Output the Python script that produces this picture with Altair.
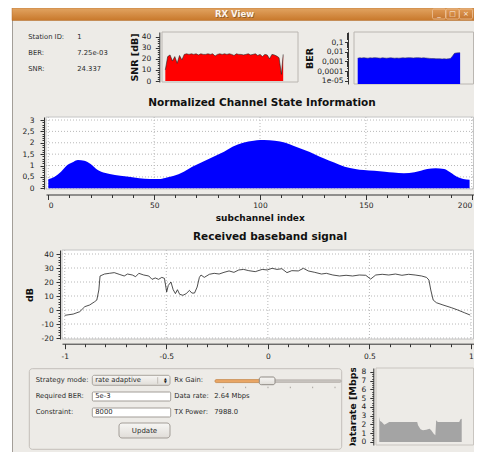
import altair as alt
import pandas as pd

FONT = "DejaVu Sans"
BG = "#EDEBE7"
INK = "#2b2b2b"
W, H = 466, 444

# ---------------- texts ----------------
window_title = "RX View"
window_buttons = ["_", "□", "×"]
station_labels = ["Station ID:", "BER:", "SNR:"]
station_values = ["1", "7.25e-03", "24.337"]
csi_title = "Normalized Channel State Information"
csi_xtitle = "subchannel index"
bb_title = "Received baseband signal"
ctrl_labels = ["Strategy mode:", "Required BER:", "Constraint:"]
ctrl_inputs = ["rate adaptive", "5e-3", "8000"]
stat_labels = ["Rx Gain:", "Data rate:", "TX Power:"]
stat_values = ["", "2.64 Mbps", "7988.0"]
button_label = "Update"
dr_title_text = "Datarate [Mbps]"
ber_tick_exps = [-1, -2, -3, -4, -5]
ber_tick_labels = ["0,1", "0,01", "0,001", "0,0001", "1e-05"]

# ---------------- series ----------------
sub_idx = list(range(0, 200, 4)) + [199]
snr_db = [10, 22, 23.5, 18, 22, 16, 23, 19, 24, 24.5, 24, 24.5, 24, 24.5, 23.5, 24.5,
          24, 24, 24.5, 24, 24.5, 22.5, 24, 24.5, 24, 24.5, 24, 24.5, 24, 23, 24.5, 24,
          24, 23.5, 24, 24.5, 23.5, 24, 24.5, 23, 24, 22, 24, 23.5, 20, 24, 23.5, 22.5,
          21, 6, 24]
ber_vals = [0.0022, 0.0024, 0.0023, 0.0025, 0.0023, 0.0022, 0.0024, 0.0023, 0.0025, 0.0024,
            0.0023, 0.0022, 0.0024, 0.0023, 0.0022, 0.0023, 0.0024, 0.0023, 0.0022, 0.0023,
            0.0022, 0.0023, 0.0024, 0.0023, 0.0024, 0.0025, 0.0024, 0.0023, 0.0024, 0.0025,
            0.0024, 0.0023, 0.0024, 0.0023, 0.0022, 0.0021, 0.0020, 0.0020, 0.0019, 0.0019,
            0.0019, 0.0018, 0.0019, 0.0018, 0.0019, 0.0020, 0.0035, 0.0070, 0.0078, 0.0080,
            0.0080]
csi_idx = [0, 3, 6, 9, 12, 14, 17, 20, 23, 25, 29, 34, 38, 43, 48, 53, 56, 59, 64, 68,
           73, 78, 83, 87, 92, 97, 100, 102, 107, 112, 116, 121, 126, 130, 135, 140, 145,
           149, 154, 159, 163, 168, 173, 176, 179, 183, 187, 190, 193, 196, 199]
csi_val = [0.40, 0.51, 0.73, 1.02, 1.17, 1.24, 1.21, 1.07, 0.83, 0.73, 0.63, 0.55, 0.51,
           0.44, 0.41, 0.41, 0.47, 0.54, 0.73, 0.95, 1.17, 1.39, 1.61, 1.83, 2.00, 2.09,
           2.12, 2.12, 2.09, 2.00, 1.86, 1.68, 1.49, 1.32, 1.13, 0.95, 0.85, 0.80, 0.77,
           0.73, 0.69, 0.66, 0.70, 0.77, 0.85, 0.88, 0.85, 0.69, 0.51, 0.41, 0.37]
bb_freq = [-1.0, -0.958, -0.926, -0.901, -0.877, -0.853, -0.842, -0.832, -0.826, -0.804,
           -0.78, -0.756, -0.732, -0.707, -0.691, -0.667, -0.651, -0.635, -0.611, -0.586,
           -0.57, -0.554, -0.538, -0.522, -0.509, -0.498, -0.49, -0.477, -0.466, -0.455,
           -0.445, -0.434, -0.418, -0.402, -0.386, -0.374, -0.361, -0.348, -0.337, -0.329,
           -0.313, -0.288, -0.264, -0.24, -0.216, -0.191, -0.167, -0.143, -0.119, -0.094,
           -0.062, -0.028, -0.003, 0.021, 0.045, 0.069, 0.094, 0.118, 0.15, 0.175,
           0.199, 0.231, 0.264, 0.288, 0.32, 0.353, 0.385, 0.417, 0.45, 0.482,
           0.506, 0.531, 0.563, 0.595, 0.628, 0.66, 0.693, 0.725, 0.757, 0.781,
           0.793, 0.802, 0.814, 0.83, 0.862, 0.903, 0.935, 0.967, 0.996]
bb_db = [-3.8, -2.9, -1.2, 2.4, 3.6, 5.9, 7.1, 14.3, 24.3, 25.7,
         26.2, 26.7, 25.5, 24.3, 25.7, 25.0, 23.8, 26.2, 25.0, 24.3,
         21.9, 22.9, 21.9, 23.3, 22.6, 12.9, 17.6, 20.0, 14.5, 11.7,
         14.5, 11.2, 10.5, 11.7, 14.0, 12.1, 12.1, 16.4, 23.3, 25.0,
         23.3, 25.5, 26.2, 25.7, 26.9, 27.9, 26.9, 28.6, 29.0, 28.1,
         27.4, 29.0, 28.6, 29.8, 29.0, 29.5, 26.7, 28.1, 27.9, 29.8,
         27.9, 26.9, 25.7, 26.2, 25.0, 24.3, 24.8, 24.3, 25.0, 24.8,
         22.1, 25.0, 25.5, 25.0, 25.7, 24.8, 25.5, 25.0, 24.3, 23.3,
         21.4, 14.3, 7.1, 5.2, 3.6, 1.7, 0.0, -1.9, -3.6]
dr_t = [0, 1, 3, 6, 9, 12, 46, 47, 50, 53, 57, 61, 63, 66, 68, 69, 71, 97, 98.5, 100]
dr_mbps = [2.86, 2.4, 2.29, 1.98, 2.1, 2.29, 2.29, 1.9, 1.45, 1.33, 1.41, 1.52, 1.33,
           0.95, 0.76, 2.48, 2.29, 2.29, 2.59, 2.67]
slider_ticks = [0, 1, 2, 3, 4, 5]

# axis tick / grid positions
snr_ticks = list(range(0, 41, 2))
ber_ticks = [float(f"{d}e{e}") for e in range(-5, 0) for d in range(1, 10)]
csi_yticks = [round(0.1 * i, 1) for i in range(31)]
csi_xticks = list(range(0, 201, 10))
csi_xgrid = [0, 50, 100, 150, 200]
csi_ygrid = [0, 0.5, 1, 1.5, 2, 2.5, 3]
bb_xticks = [round(-1 + 0.1 * i, 1) for i in range(21)]
bb_yticks = list(range(-20, 41, 2))
bb_xgrid = [-1, -0.5, 0, 0.5, 1]
bb_ygrid = [-20, -10, 0, 10, 20, 30, 40]
dr_yticks = [0.25 * i for i in range(33)]

one = pd.DataFrame({"k": [0]})


def box(x, y, w, h, fill, stroke, r=0, sw=1):
    return alt.Chart(one).mark_rect(fill=fill, stroke=stroke, strokeWidth=sw,
                                    cornerRadius=r).encode(
        x=alt.value(x), x2=alt.value(x + w), y=alt.value(y), y2=alt.value(y + h))


def txt(s, x, y, size=6.8, color=INK, align="left", weight="normal", **kw):
    return alt.Chart(one).mark_text(text=s, align=align, baseline="middle", font=FONT,
                                    fontSize=size, color=color, fontWeight=weight,
                                    **kw).encode(x=alt.value(x), y=alt.value(y))


def cond(test, a, b):
    return {"condition": {"test": test, "value": a}, "value": b}


def lin(domain, rng):
    return alt.Scale(domain=domain, range=rng, nice=False, zero=False)


def grid_rules(values, scale, horizontal, a, b):
    df = pd.DataFrame({"g": values})
    base = alt.Chart(df).mark_rule(color="#b8b8b8", strokeDash=[1, 2], strokeWidth=1)
    if horizontal:
        return base.encode(y=alt.Y("g:Q", axis=None, scale=scale),
                           x=alt.value(a), x2=alt.value(b))
    return base.encode(x=alt.X("g:Q", axis=None, scale=scale),
                       y=alt.value(a), y2=alt.value(b))


layers = []

# ---------------- window frame + title bar ----------------
bar_fill = alt.LinearGradient(gradient="linear", x1=0, y1=0, x2=0, y2=1,
                              stops=[alt.GradientStop(offset=0, color="#E2A462"),
                                     alt.GradientStop(offset=1, color="#C8782B")])
btn_fill = alt.LinearGradient(gradient="linear", x1=0, y1=0, x2=0, y2=1,
                              stops=[alt.GradientStop(offset=0, color="#E09A55"),
                                     alt.GradientStop(offset=1, color="#C57630")])
btn_df = pd.DataFrame({"k": [0, 1, 2], "b": window_buttons})
btn_x = alt.X("k:Q", axis=None, scale=lin([0, 2], [431, 458]))
layers += [
    box(0, 0, 4, H, "white", "white", 0, 0),
    alt.Chart(one).mark_rule(color="#a39e98").encode(
        x=alt.value(4.5), y=alt.value(12), y2=alt.value(H)),
    box(4, 0, 462, 12.5, bar_fill, "#B06A28", 0, 0.5),
    txt(window_title, 227.3, 6.8, 8.5, "#6a4320", "center", "bold", opacity=0.6),
    txt(window_title, 226.5, 6.0, 8.5, "#FBF4EC", "center", "bold"),
    alt.Chart(btn_df).mark_rect(width=13, fill=btn_fill, stroke="#EDC39A", strokeWidth=0.8,
                                cornerRadius=1.5).encode(
        x=btn_x, y=alt.value(1), y2=alt.value(11)),
    alt.Chart(btn_df).mark_text(font=FONT, fontSize=7, color="#FBF0E4",
                                baseline="middle").encode(
        x=btn_x, y=alt.value(5.8), text="b:N"),
]

# ---------------- station info ----------------
info_df = pd.DataFrame({"row": [0, 1, 2], "label": station_labels, "value": station_values})
info_y = alt.Y("row:O", axis=None, scale=alt.Scale(type="point", range=[29.3, 61.3], padding=0))
layers += [
    alt.Chart(info_df).mark_text(align="left", baseline="middle", font=FONT, fontSize=6.8,
                                 color=INK).encode(x=alt.value(20.3), y=info_y, text="label:N"),
    alt.Chart(info_df).mark_text(align="left", baseline="middle", font=FONT, fontSize=6.8,
                                 color=INK).encode(x=alt.value(69.3), y=info_y, text="value:N"),
]

# ---------------- SNR panel ----------------
snr_df = pd.DataFrame({"idx": sub_idx, "snr": snr_db})
snr_xs = lin([-5.6, 224], [154, 290])
snr_ys = lin([-0.9, 44.2], [74, 24])
snr_axis = alt.Axis(orient="left", offset=-151.3, values=snr_ticks,
                    labelExpr="datum.value % 10 == 0 ? toString(datum.value) : ''",
                    tickSize=cond("datum.value % 10 == 0", 4, 2), labelPadding=4.5,
                    title="SNR [dB]", titleFontSize=9.5, titlePadding=2)
layers += [
    box(154, 24, 136, 50, BG, "#bab6b1"),
    alt.Chart(snr_df).mark_area(color="#FF0000").encode(
        x=alt.X("idx:Q", axis=None, scale=snr_xs),
        y=alt.Y("snr:Q", axis=snr_axis, scale=snr_ys), y2=alt.datum(0)),
    alt.Chart(snr_df).mark_line(color="#222222", strokeWidth=0.6).encode(
        x=alt.X("idx:Q", axis=None, scale=snr_xs),
        y=alt.Y("snr:Q", axis=None, scale=snr_ys)),
]

# ---------------- BER panel ----------------
is_dec = "abs(log(datum.value)/LN10 - round(log(datum.value)/LN10)) < 0.01"
ber_label_expr = (is_dec + " ? (" + " : ".join(
    f"round(log(datum.value)/LN10) == {e} ? '{l}'"
    for e, l in zip(ber_tick_exps, ber_tick_labels)) + " : '') : ''")
ber_df = pd.DataFrame({"idx": sub_idx, "ber": ber_vals})
ber_xs = lin([-7.2, 225], [346, 465.5])
ber_ys = alt.Scale(type="log", domain=[4.5e-6, 1.18], range=[76, 24], nice=False)
ber_axis = alt.Axis(orient="left", offset=-340, values=ber_ticks, labelExpr=ber_label_expr,
                    tickSize=cond(is_dec, 3.5, 1.5), labelPadding=1.5, title="BER",
                    titleFontSize=9.5, titlePadding=2)
layers += [
    box(346, 24, 119.5, 52, BG, "#bab6b1"),
    alt.Chart(ber_df).mark_area(color="#0000FF").encode(
        x=alt.X("idx:Q", axis=None, scale=ber_xs),
        y=alt.Y("ber:Q", axis=ber_axis, scale=ber_ys), y2=alt.datum(4.5e-6)),
    alt.Chart(ber_df).mark_line(color="#333366", strokeWidth=0.6).encode(
        x=alt.X("idx:Q", axis=None, scale=ber_xs),
        y=alt.Y("ber:Q", axis=None, scale=ber_ys)),
]

# ---------------- CSI panel ----------------
half = "abs(datum.value*2 - round(datum.value*2)) < 0.001"
csi_df = pd.DataFrame({"idx": csi_idx, "csi": csi_val})
csi_xs = lin([-1.09, 200.85], [38, 465.5])
csi_ys = lin([-0.031, 3.132], [181, 109])
csi_xaxis = alt.Axis(orient="bottom", offset=186.5 - H, values=csi_xticks,
                     labelExpr="datum.value % 50 == 0 ? toString(datum.value) : ''",
                     tickSize=cond("datum.value % 50 == 0", 5, 3), labelPadding=2,
                     labelFlush=4, title=csi_xtitle, titleFontSize=9, titlePadding=4)
csi_yaxis = alt.Axis(orient="left", offset=-36, values=csi_yticks,
                     labelExpr=half + " ? replace(toString(datum.value), '.', ',') : ''",
                     tickSize=cond(half, 4, 2), labelPadding=6, title=None)
layers += [
    box(38, 109, 427.5, 72, "white", "#c4c4c4"),
    grid_rules(csi_xgrid, csi_xs, False, 109, 181),
    grid_rules(csi_ygrid, csi_ys, True, 38, 465.5),
    alt.Chart(csi_df).mark_area(color="#0000FF", interpolate="monotone").encode(
        x=alt.X("idx:Q", axis=csi_xaxis, scale=csi_xs),
        y=alt.Y("csi:Q", axis=csi_yaxis, scale=csi_ys), y2=alt.datum(0)),
    txt(csi_title, 254, 95, 10.5, "#111111", "center", "bold"),
]

# ---------------- baseband panel ----------------
bb_df = pd.DataFrame({"f": bb_freq, "db": bb_db})
bb_xs = lin([-1.0133, 1.0123], [54, 465.5])
bb_ys = lin([-20.7, 42.86], [331, 242])
bb_xaxis = alt.Axis(orient="bottom", offset=335.7 - H, values=bb_xticks,
                    labelExpr=half + " ? toString(datum.value) : ''",
                    tickSize=cond(half, 5, 3), labelPadding=4, title=None)
bb_yaxis = alt.Axis(orient="left", offset=-52, values=bb_yticks,
                    labelExpr="datum.value % 10 == 0 ? toString(datum.value) : ''",
                    tickSize=cond("datum.value % 10 == 0", 4, 2), labelPadding=2.7,
                    title="dB", titleFontSize=9.5, titlePadding=7)
layers += [
    box(54, 242, 411.5, 89, "white", "#c4c4c4"),
    grid_rules(bb_xgrid, bb_xs, False, 242, 331),
    grid_rules(bb_ygrid, bb_ys, True, 54, 465.5),
    alt.Chart(bb_df).mark_line(color="#222222", strokeWidth=0.8).encode(
        x=alt.X("f:Q", axis=bb_xaxis, scale=bb_xs),
        y=alt.Y("db:Q", axis=bb_yaxis, scale=bb_ys)),
    txt(bb_title, 262, 229, 10.5, "#111111", "center", "bold"),
]

# ---------------- controls panel ----------------
CX, CY = 21.3, 360.7


def cbox(x, y, w, h, fill, stroke, r=0, sw=1):
    return box(CX + x, CY + y, w, h, fill, stroke, r, sw)


ctrl_df = pd.DataFrame({"row": [0, 1, 2], "label": ctrl_labels, "inp": ctrl_inputs,
                        "slabel": stat_labels, "sval": stat_values})
row_y = alt.Y("row:O", axis=None,
              scale=alt.Scale(type="point", range=[CY + 11.6, CY + 43.4], padding=0))


def ctext(field, x):
    return alt.Chart(ctrl_df).mark_text(align="left", baseline="middle", font=FONT,
                                        fontSize=6.8, color=INK).encode(
        x=alt.value(CX + x), y=row_y, text=f"{field}:N")


btn_grad = alt.LinearGradient(gradient="linear", x1=0, y1=0, x2=0, y2=1,
                              stops=[alt.GradientStop(offset=0, color="#F7F6F4"),
                                     alt.GradientStop(offset=1, color="#E0DDD8")])
tick_df = pd.DataFrame({"k": slider_ticks})
layers += [
    cbox(0, 0, 312.4, 80.6, BG, "#c3bfba", 3),
    cbox(63, 6.6, 77.7, 10, btn_grad, "#a8a39d", 2),
    alt.Chart(one).mark_rule(color="#c2bdb7").encode(
        x=alt.value(CX + 128.4), y=alt.value(CY + 8.5), y2=alt.value(CY + 15)),
    txt("▲", CX + 134.7, CY + 9.9, 3.6, "#222"),
    txt("▼", CX + 134.7, CY + 13.6, 3.6, "#222"),
    cbox(63, 23.3, 78.4, 9, "white", "#a29d97", 1),
    cbox(63, 39.3, 78.4, 9, "white", "#a29d97", 1),
    cbox(185.7, 11.1, 126.3, 2.6, "#c8c4bf", "#aaa59f", 1.3, 0.6),
    cbox(185.7, 10.9, 45, 3, "#E9A665", "#c98743", 1.3, 0.6),
    cbox(230, 8.3, 15.7, 7.7, btn_grad, "#8f8a84", 2),
    alt.Chart(tick_df).mark_rule(color="#a9a49f").encode(
        x=alt.X("k:Q", axis=None, scale=lin([0, 5], [CX + 194, CX + 305.7])),
        y=alt.value(CY + 18), y2=alt.value(CY + 19.5)),
    cbox(89.7, 54.3, 51, 15, btn_grad, "#a29d97", 3),
    txt(button_label, CX + 115.2, CY + 61.8, 7, INK, "center"),
    ctext("label", 6.4),
    ctext("inp", 66),
    ctext("slabel", 145),
    ctext("sval", 185),
]

# ---------------- datarate panel ----------------
dr_df = pd.DataFrame({"t": dr_t, "r": dr_mbps})
dr_xs = lin([-4, 114.3], [368, 465.5])
dr_ys = lin([-0.343, 8.457], [437, 360])
dr_axis = alt.Axis(orient="left", offset=-365.3, values=dr_yticks,
                   labelExpr="datum.value % 1 == 0 ? toString(datum.value) : ''",
                   tickSize=cond("datum.value % 1 == 0", 3.5, 1.5), labelPadding=4,
                   title=None)
layers += [
    box(368, 360, 97.5, 77, BG, "#c9c5c0"),
    alt.Chart(dr_df).mark_area(color="#A4A4A4").encode(
        x=alt.X("t:Q", axis=None, scale=dr_xs),
        y=alt.Y("r:Q", axis=dr_axis, scale=dr_ys), y2=alt.datum(0)),
    txt(dr_title_text, 345.3, 398.5, 9.5, "#111111", "center", "bold", angle=270),
    box(335, 348, 20, 12, BG, BG, 0, 0),
    box(335, 437.5, 20, 8, BG, BG, 0, 0),
]

chart = alt.layer(*layers).resolve_scale(
    x="independent", y="independent"
).properties(
    width=W, height=H, padding=0, autosize=alt.AutoSizeParams(type="none")
).configure(
    background=BG, font=FONT
).configure_view(strokeWidth=0).configure_axis(
    labelFont=FONT, titleFont=FONT, labelFontSize=7.5, labelColor="#222222",
    domainColor="#333333", tickColor="#333333", titleColor="#111111", titleFontWeight="bold",
    labelFlush=False, labelOverlap=False, grid=False, domainWidth=1, tickWidth=1
)

chart.save("out.html", embed_options={"renderer": "svg", "actions": False})
